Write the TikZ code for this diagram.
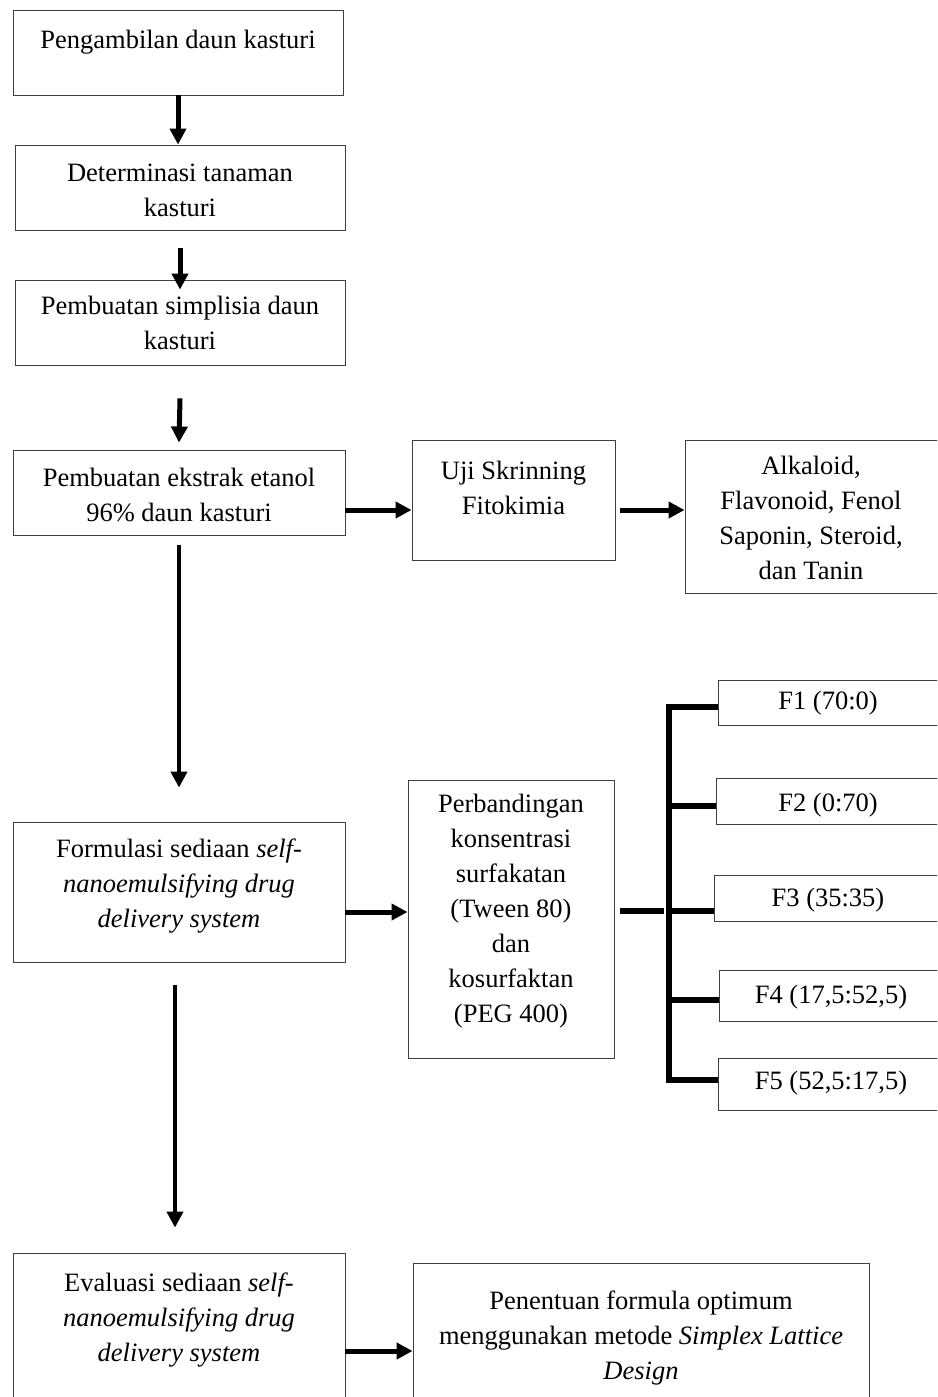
\documentclass[tikz,border=0pt]{standalone}
\usepackage{fontspec}
\setmainfont{Liberation Serif}
\usetikzlibrary{arrows.meta}

\tikzset{
  box/.style={draw=black!75, line width=0.9pt, inner sep=0pt},
  txt/.style={align=center, inner sep=0pt, font=\fontsize{26.5}{35}\selectfont},
  arr/.style={line width=5pt, -{Triangle[length=16pt,width=16pt]}},
  longarr/.style={line width=4.2pt, -{Triangle[length=16pt,width=16pt]}},
  bus/.style={line width=6pt},
}

\begin{document}
\begin{tikzpicture}[x=1pt,y=-1pt]
		\useasboundingbox (0,0) rectangle (937,1397);
		\clip (0,0) rectangle (937,1397);
		
		%Boxes, left column
		\node[box, minimum width=330, minimum height=85] (pengambilan) at (178,52.5) {};
		\node[box, minimum width=330, minimum height=85] (determinasi) at (180,187.5) {};
		\node[box, minimum width=330, minimum height=85] (simplisia) at (180,322.5) {};
		\node[box, minimum width=332, minimum height=85] (ekstrak) at (179,492.5) {};
		\node[box, minimum width=332, minimum height=140] (formulasi) at (179,892) {};
		\node[box, minimum width=332, minimum height=167] (evaluasi) at (179,1336.5) {};
		
		%Boxes, right side
		\node[box, minimum width=203, minimum height=120] (uji) at (513.5,500) {};
		\node[box, minimum width=255, minimum height=153] (alkaloid) at (812.5,516.5) {};
		\node[box, minimum width=206, minimum height=278] (perbandingan) at (511,919) {};
		\node[box, minimum width=456, minimum height=157] (penentuan) at (641,1341.5) {};
		
		%Boxes, formulas
		\node[box, minimum width=222, minimum height=45] (f1) at (829,702.5) {};
		\node[box, minimum width=224, minimum height=46] (f2) at (828,801) {};
		\node[box, minimum width=226, minimum height=46] (f3) at (827,898) {};
		\node[box, minimum width=221, minimum height=51] (f4) at (829.5,995.5) {};
		\node[box, minimum width=222, minimum height=52] (f5) at (829,1084) {};
		
		%Straight Lines, down the left column
		\draw[arr] (pengambilan.south) -- (pengambilan.south |- determinasi.north);
		\draw[arr] ([yshift=-18pt]determinasi.south) -- ([yshift=-10pt]simplisia.north);
		\draw[arr] ([yshift=-33pt]simplisia.south) -- ([yshift=7pt]ekstrak.north);
		\draw[longarr] ([yshift=-10pt]ekstrak.south) -- ([yshift=34pt]formulasi.north);
		\draw[longarr] ([xshift=-4pt,yshift=-23pt]formulasi.south) -- ([xshift=-4pt,yshift=25pt]evaluasi.north);
		
		%Straight Lines, to the right
		\draw[arr] ([yshift=-17.5pt]ekstrak.east) -- ([yshift=-17.5pt]ekstrak.east -| uji.west);
		\draw[arr] ([xshift=5pt,yshift=-10pt]uji.east) -- ([yshift=-10pt]uji.east -| alkaloid.west);
		\draw[arr] ([yshift=-20pt]formulasi.east) -- ([yshift=-20pt]formulasi.east -| perbandingan.west);
		\draw[arr] ([yshift=-14.5pt]evaluasi.east) -- ([yshift=-14.5pt]evaluasi.east -| penentuan.west);
		
		%Bracket to the formulas
		\coordinate (spine) at (669,911);
		\draw[bus] ([xshift=6pt,yshift=8pt]perbandingan.east) -- ([xshift=-5pt]spine);
		\draw[bus] ([yshift=-4.5pt]f1.west) -| (spine) |- ([yshift=4pt]f5.west);
		\draw[bus] ([yshift=-5pt]f2.west -| spine) -- ([yshift=-5pt]f2.west);
		\draw[bus] ([yshift=-13pt]f3.west -| spine) -- ([yshift=-13pt]f3.west);
		\draw[bus] ([yshift=-4.5pt]f4.west -| spine) -- ([yshift=-4.5pt]f4.west);
		
		% Text Node
		\node[txt] (pengambilan-t) at (178,42) {Pengambilan daun kasturi};
		% Text Node
		\node[txt] (determinasi-t) at (180,190) {Determinasi tanaman\\kasturi};
		% Text Node
		\node[txt] (simplisia-t) at (180,323) {Pembuatan simplisia daun\\kasturi};
		% Text Node
		\node[txt] (ekstrak-t) at (179,495) {Pembuatan ekstrak etanol\\96\% daun kasturi};
		% Text Node
		\node[txt] (uji-t) at (513.5,488) {Uji Skrinning\\Fitokimia};
		% Text Node
		\node[txt] (alkaloid-t) at (811,518) {Alkaloid,\\Flavonoid, Fenol\\Saponin, Steroid,\\dan Tanin};
		% Text Node
		\node[txt] (formulasi-t) at (179,886) {Formulasi sediaan \textit{self-}\\\textit{nanoemulsifying drug}\\\textit{delivery system}};
		% Text Node
		\node[txt] (perbandingan-t) at (511,911) {Perbandingan\\konsentrasi\\surfakatan\\(Tween 80)\\dan\\kosurfaktan\\(PEG 400)};
		% Text Node
		\node[txt] (f1-t) at (828,703) {F1 (70:0)};
		% Text Node
		\node[txt] (f2-t) at (828,805) {F2 (0:70)};
		% Text Node
		\node[txt] (f3-t) at (828,900) {F3 (35:35)};
		% Text Node
		\node[txt] (f4-t) at (831,997) {F4 (17,5:52,5)};
		% Text Node
		\node[txt] (f5-t) at (831,1083) {F5 (52,5:17,5)};
		% Text Node
		\node[txt] (evaluasi-t) at (179,1320) {Evaluasi sediaan \textit{self-}\\\textit{nanoemulsifying drug}\\\textit{delivery system}};
		% Text Node
		\node[txt] (penentuan-t) at (641,1338) {Penentuan formula optimum\\menggunakan metode \textit{Simplex Lattice}\\\textit{Design}};
		
\end{tikzpicture}
\end{document}
